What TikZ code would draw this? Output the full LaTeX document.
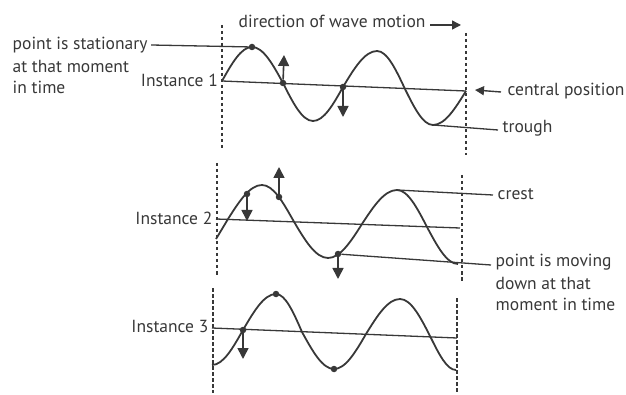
\documentclass[tikz,border=0pt]{standalone}
\usepackage{fontspec}
\setmainfont{PT Sans}
\usetikzlibrary{arrows.meta}
\definecolor{ink}{HTML}{383838}
\tikzset{
 wave/.style={draw=ink,line width=1.8pt},
 axisline/.style={draw=ink,line width=1.3pt},
 guide/.style={draw=ink,line width=1.6pt,dash pattern=on 3.5pt off 2.5pt},
 dot/.style={circle,fill=ink,inner sep=0pt,minimum size=6.5pt},
 lbl/.style={text=ink,font=\fontsize{17.5}{20}\selectfont,inner sep=1.5pt},
 leader/.style={draw=ink,line width=1.3pt},
 motion/.style={draw=ink,line width=1.6pt,-{Triangle[length=11pt,width=11pt]}},
 pointer/.style={draw=ink,line width=1.4pt,-{Triangle[length=9pt,width=9pt]}}
}
\begin{document}
\begin{tikzpicture}[x=1pt,y=-1pt]
\useasboundingbox (0,0) rectangle (626,395);

% ---------- Instance 1 ----------
\coordinate (g1a) at (222,25);  \coordinate (g1b) at (222,150);
\coordinate (g1c) at (466,33);  \coordinate (g1d) at (466,155);
\draw[guide] (g1a) -- (g1b);
\draw[guide] (g1c) -- (g1d);
\coordinate (a1s) at (222,81); \coordinate (a1e) at (466,91);
\draw[axisline] (a1s) -- (a1e);
\draw[wave] (222,81) sin (252,47) cos (283,83) sin (313,121) cos (343,87)
  sin (377,51) cos (405,89) sin (433,125) cos (466,91);
\node[dot] (c1) at (252,47) {};
\node[dot] (p1) at (283,83) {};
\node[dot] (q1) at (343,87) {};
\coordinate (p1t) at (284,55);
\coordinate (q1t) at (343,117);
\draw[motion] (p1) -- (p1t);
\draw[motion] (q1) -- (q1t);
\node[dot,minimum size=0pt] (t1) at (433,125) {};

\node[lbl,anchor=east] (inst1) at (219.5,80) {Instance 1};
\node[lbl,anchor=west] (stat) at (11,45) {point is stationary};
\node[lbl,anchor=west] (stat2) at (11,66) {at that moment};
\node[lbl,anchor=west] (stat3) at (11,87) {in time};
\draw[leader] ([xshift=2pt]stat.east) -- (c1);

\node[lbl,anchor=west] (dir) at (237,21) {direction of wave motion};
\coordinate (dirE) at (461,25);
\draw[pointer] ([xshift=3pt,yshift=-4pt]dir.east) -- (dirE);

\node[lbl,anchor=west] (cent) at (506,91) {central position};
\coordinate (centT) at (475,90);
\draw[pointer] ([xshift=-5pt,yshift=-1pt]cent.west) -- (centT);

\node[lbl,anchor=west] (trough) at (501,128) {trough};
\draw[leader] (t1) -- ([xshift=-3pt,yshift=-2pt]trough.west);

% ---------- Instance 2 ----------
\coordinate (g2a) at (217,163);  \coordinate (g2b) at (217,275);
\coordinate (g2c) at (462,175);  \coordinate (g2d) at (462,281);
\draw[guide] (g2a) -- (g2b);
\draw[guide] (g2c) -- (g2d);
\coordinate (a2s) at (216,219); \coordinate (a2e) at (460,228);
\draw[axisline] (a2s) -- (a2e);
\draw[wave] (216,239) -- (228,219) sin (262,185) cos (293,220) sin (328,258)
  cos (362,224) sin (397,190) cos (427,227) sin (458,264);
\node[dot] (p2a) at (247,194) {};
\node[dot] (p2b) at (279,197) {};
\node[dot] (p2c) at (338,254) {};
\coordinate (p2at) at (247,221);
\coordinate (p2bt) at (279,167);
\coordinate (p2ct) at (338,279);
\draw[motion] (p2a) -- (p2at);
\draw[motion] (p2b) -- (p2bt);
\draw[motion] (p2c) -- (p2ct);
\node[dot,minimum size=0pt] (c2) at (397,190) {};

\node[lbl,anchor=east] (inst2) at (214,218) {Instance 2};
\node[lbl,anchor=west] (crest) at (496,194) {crest};
\draw[leader] (c2) -- ([xshift=-3pt,yshift=-1pt]crest.west);
\node[lbl,anchor=west] (mov) at (494,262) {point is moving};
\node[lbl,anchor=west] (mov2) at (494,283) {down at that};
\node[lbl,anchor=west] (mov3) at (494,304) {moment in time};
\draw[leader] (p2c) -- ([xshift=-3pt,yshift=-3pt]mov.west);

% ---------- Instance 3 ----------
\coordinate (g3a) at (213,288);  \coordinate (g3b) at (213,393);
\coordinate (g3c) at (457,298);  \coordinate (g3d) at (457,393);
\draw[guide] (g3a) -- (g3b);
\draw[guide] (g3c) -- (g3d);
\coordinate (a3s) at (212,328); \coordinate (a3e) at (457,338);
\draw[axisline] (a3s) -- (a3e);
\draw[wave] (212,365) cos (243,330) sin (276,294) cos (302,332) sin (334,369)
  cos (366,334) sin (400,299) cos (431,338) sin (456,370);
\node[dot] (p3) at (243,330) {};
\node[dot] (c3) at (276,294) {};
\node[dot] (t3) at (334,369) {};
\coordinate (p3t) at (243,359);
\draw[motion] (p3) -- (p3t);
\node[lbl,anchor=east] (inst3) at (210,326) {Instance 3};

\end{tikzpicture}
\end{document}
